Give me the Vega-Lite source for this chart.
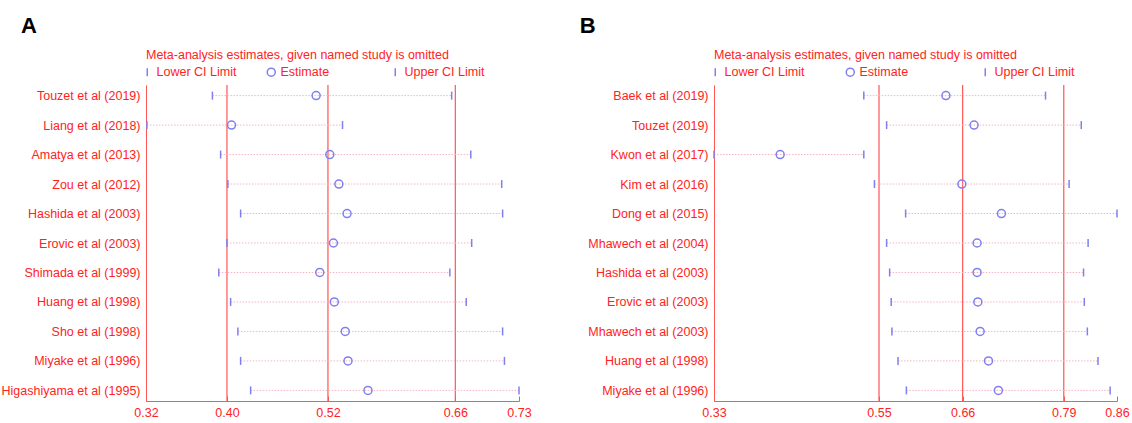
{
  "$schema": "https://vega.github.io/schema/vega-lite/v6.json",
  "padding": {"left": 1, "top": 15, "right": 5, "bottom": 0},
  "background": "white",
  "resolve": {"scale": {"shape": "independent"}, "legend": {"shape": "independent"}},
  "config": {
    "font": "Liberation Sans",
    "view": {"stroke": null},
    "concat": {"spacing": 47},
    "title": {"fontSize": 22, "fontWeight": "bold", "color": "black", "anchor": "start", "offset": 11},
    "axisX": {"title": null, "grid": false, "domainColor": "#ff5555", "tickColor": "#ff5555", "tickSize": -5, "labelColor": "#ff2222", "labelFontSize": 12.5, "labelPadding": 10, "labelFlush": false, "labelOverlap": false},
    "axisY": {"title": null, "grid": false, "ticks": false, "domainColor": "#ff5555", "labelColor": "#ff2222", "labelFontSize": 12.5, "labelPadding": 6, "labelLimit": 300},
    "legend": {"orient": "top", "direction": "horizontal", "columns": 3, "gridAlign": "all", "columnPadding": 27, "symbolOffset": -5, "titleColor": "#ff2222", "titleFontSize": 12.5, "titleFontWeight": "normal", "titleLimit": 600, "titlePadding": 4, "labelColor": "#ff2222", "labelFontSize": 12.5, "labelOffset": 3, "offset": 5, "padding": 0, "symbolSize": 64, "symbolStrokeWidth": 1.5, "symbolStrokeColor": "#7f7ff0", "symbolFillColor": "transparent"}
  },
  "datasets": {
    "A": [
      {"study": "Touzet et al (2019)", "lower": 0.393, "est": 0.507, "upper": 0.656},
      {"study": "Liang et al (2018)", "lower": 0.321, "est": 0.414, "upper": 0.536},
      {"study": "Amatya et al (2013)", "lower": 0.402, "est": 0.522, "upper": 0.677},
      {"study": "Zou et al (2012)", "lower": 0.410, "est": 0.532, "upper": 0.711},
      {"study": "Hashida et al (2003)", "lower": 0.424, "est": 0.541, "upper": 0.712},
      {"study": "Erovic et al (2003)", "lower": 0.409, "est": 0.526, "upper": 0.678},
      {"study": "Shimada et al (1999)", "lower": 0.400, "est": 0.511, "upper": 0.654},
      {"study": "Huang et al (1998)", "lower": 0.413, "est": 0.527, "upper": 0.672},
      {"study": "Sho et al (1998)", "lower": 0.421, "est": 0.539, "upper": 0.712},
      {"study": "Miyake et al (1996)", "lower": 0.424, "est": 0.542, "upper": 0.714},
      {"study": "Higashiyama et al (1995)", "lower": 0.435, "est": 0.564, "upper": 0.730}
    ],
    "B": [
      {"study": "Baek et al (2019)", "lower": 0.527, "est": 0.635, "upper": 0.766},
      {"study": "Touzet (2019)", "lower": 0.557, "est": 0.672, "upper": 0.813},
      {"study": "Kwon et al (2017)", "lower": 0.330, "est": 0.417, "upper": 0.527},
      {"study": "Kim et al (2016)", "lower": 0.541, "est": 0.656, "upper": 0.797},
      {"study": "Dong et al (2015)", "lower": 0.582, "est": 0.708, "upper": 0.860},
      {"study": "Mhawech et al (2004)", "lower": 0.557, "est": 0.676, "upper": 0.822},
      {"study": "Hashida et al (2003)", "lower": 0.561, "est": 0.676, "upper": 0.816},
      {"study": "Erovic et al (2003)", "lower": 0.563, "est": 0.677, "upper": 0.817},
      {"study": "Mhawech et al (2003)", "lower": 0.564, "est": 0.680, "upper": 0.821},
      {"study": "Huang et al (1998)", "lower": 0.572, "est": 0.691, "upper": 0.835},
      {"study": "Miyake et al (1996)", "lower": 0.583, "est": 0.704, "upper": 0.851}
    ],
    "overallA": [{"v": 0.409}, {"v": 0.52}, {"v": 0.66}],
    "overallB": [{"v": 0.547}, {"v": 0.657}, {"v": 0.79}]
  },
  "hconcat": [
    {
      "title": {"text": "A", "dx": 20},
      "resolve": {"scale": {"shape": "independent"}, "legend": {"shape": "independent"}},
      "vconcat": [
        {
          "width": 373,
          "height": 316,
          "layer": [
            {
              "data": {"name": "overallA"},
              "mark": {"type": "rule", "color": "#ff5555", "strokeWidth": 1.2},
              "encoding": {
                "x": {"field": "v", "type": "quantitative",
                      "scale": {"domain": [0.32, 0.73], "nice": false, "zero": false},
                      "axis": {"values": [0.32, 0.409, 0.52, 0.66, 0.73], "labelExpr": "format(floor(datum.value*100+0.000001)/100, '.2f')"}}
              }
            },
            {
              "data": {"name": "A"},
              "mark": {"type": "rule", "color": "#f6b3c3", "strokeDash": [1.5, 1.5], "strokeWidth": 1},
              "encoding": {
                "y": {"field": "study", "type": "nominal", "sort": null, "scale": {"type": "point", "padding": 0.36}},
                "x": {"field": "lower", "type": "quantitative"},
                "x2": {"field": "upper"}
              }
            },
            {
              "data": {"name": "A"},
              "transform": [{"fold": ["lower", "est", "upper"], "as": ["key", "value"]}],
              "mark": {"type": "point", "filled": false, "color": "#7f7ff0", "size": 64, "strokeWidth": 1.5, "opacity": 1},
              "encoding": {
                "y": {"field": "study", "type": "nominal", "sort": null},
                "x": {"field": "value", "type": "quantitative"},
                "shape": {"field": "key", "type": "nominal",
                          "scale": {"domain": ["lower", "est", "upper"], "range": ["M0,-1L0,1", "circle", "M0,-1L0,1"]},
                          "legend": {"title": "Meta-analysis estimates, given named study is omitted",
                                     "labelExpr": "datum.label == 'lower' ? 'Lower CI Limit' : datum.label == 'est' ? 'Estimate' : 'Upper CI Limit'"}}
              }
            }
          ]
        }
      ]
    },
    {
      "title": {"text": "B", "dx": -8},
      "resolve": {"scale": {"shape": "independent"}, "legend": {"shape": "independent"}},
      "vconcat": [
        {
          "width": 403,
          "height": 316,
          "layer": [
            {
              "data": {"name": "overallB"},
              "mark": {"type": "rule", "color": "#ff5555", "strokeWidth": 1.2},
              "encoding": {
                "x": {"field": "v", "type": "quantitative",
                      "scale": {"domain": [0.33, 0.86], "nice": false, "zero": false},
                      "axis": {"values": [0.33, 0.547, 0.657, 0.79, 0.86], "format": ".2f"}}
              }
            },
            {
              "data": {"name": "B"},
              "mark": {"type": "rule", "color": "#f6b3c3", "strokeDash": [1.5, 1.5], "strokeWidth": 1},
              "encoding": {
                "y": {"field": "study", "type": "nominal", "sort": null, "scale": {"type": "point", "padding": 0.36}},
                "x": {"field": "lower", "type": "quantitative"},
                "x2": {"field": "upper"}
              }
            },
            {
              "data": {"name": "B"},
              "transform": [{"fold": ["lower", "est", "upper"], "as": ["key", "value"]}],
              "mark": {"type": "point", "filled": false, "color": "#7f7ff0", "size": 64, "strokeWidth": 1.5, "opacity": 1},
              "encoding": {
                "y": {"field": "study", "type": "nominal", "sort": null},
                "x": {"field": "value", "type": "quantitative"},
                "shape": {"field": "key", "type": "nominal",
                          "scale": {"domain": ["lower", "est", "upper"], "range": ["M0,-1L0,1", "circle", "M0,-1L0,1"]},
                          "legend": {"title": "Meta-analysis estimates, given named study is omitted", "columnPadding": 38,
                                     "labelExpr": "datum.label == 'lower' ? 'Lower CI Limit' : datum.label == 'est' ? 'Estimate' : 'Upper CI Limit'"}}
              }
            }
          ]
        }
      ]
    }
  ]
}
